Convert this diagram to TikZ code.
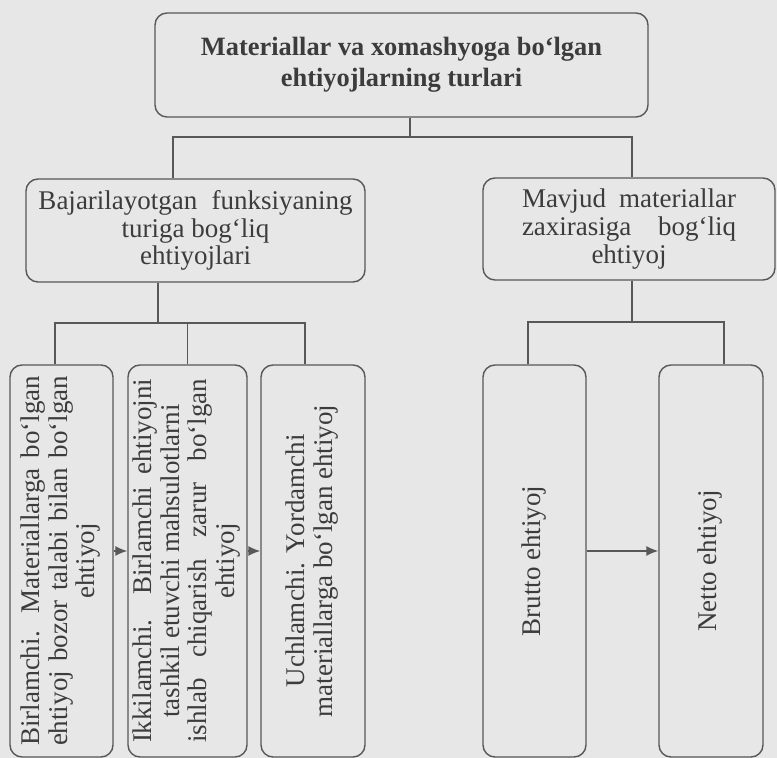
\documentclass[tikz,border=0pt]{standalone}
\usepackage{fontspec}
\setmainfont{Liberation Serif}
\usepackage{xcolor}
\usetikzlibrary{calc,arrows.meta}
\definecolor{pagebg}{HTML}{E7E7E7}
\definecolor{linegray}{HTML}{585858}
\definecolor{inkgray}{HTML}{3C3C3C}
\newcommand{\vlines}[1]{\rotatebox{90}{\begin{tabular}{@{}c@{}}#1\end{tabular}}}
\newcommand{\jline}[2]{\makebox[#1][s]{#2}}
\tikzset{
box/.style={
    draw=linegray, rectangle, rounded corners=6pt,
    line width=0.7pt, inner sep=2pt, text=inkgray,
    align=center, font=\fontsize{13.5}{13.8}\selectfont
  },
vbox/.style={
    box, minimum height=196pt, minimum width=#1
  }
}

\begin{document}
\begin{tikzpicture}[
 x=0.5pt, y=-0.5pt,
 link/.style={draw=linegray, line width=0.7pt},
 >={Latex[length=6pt,width=5pt]}
  ]
\fill[pagebg] (0,0) rectangle (777,758);
\useasboundingbox (0,0) rectangle (777,758);

\node[box, minimum width=246.5pt, minimum height=52pt,
      font=\fontsize{13.2}{15.5}\selectfont\bfseries] (top) at (401.5,65)
  {Materiallar va xomashyoga bo‘lgan\\ehtiyojlarning turlari};

\node[box, minimum width=169.5pt, minimum height=51.5pt] (func) at (195.5,230.5)
  {\jline{157pt}{Bajarilayotgan funksiyaning}\\turiga bog‘liq\\ehtiyojlari};
\node[box, minimum width=146pt, minimum height=51pt] (stock) at (629,229)
  {\jline{107pt}{Mavjud materiallar}\\\jline{107pt}{zaxirasiga bog‘liq}\\ehtiyoj};

\node[vbox=51.5pt] (prim) at (61.5,561)
  {\vlines{\jline{185pt}{Birlamchi. Materiallarga bo‘lgan}\\\jline{185pt}{ehtiyoj bozor talabi bilan bo‘lgan}\\ehtiyoj}};
\node[vbox=59.5pt] (sec) at (187.5,561)
  {\vlines{\jline{182pt}{Ikkilamchi. Birlamchi ehtiyojni}\\tashkil etuvchi mahsulotlarni\\\jline{182pt}{ishlab chiqarish zarur bo‘lgan}\\ehtiyoj}};
\node[vbox=52pt] (tert) at (313,561)
  {\vlines{Uchlamchi. Yordamchi\\materiallarga bo‘lgan ehtiyoj}};
\node[vbox=51.5pt] (gross) at (534.5,561) {\vlines{Brutto ehtiyoj}};
\node[vbox=52pt] (net) at (711,561) {\vlines{Netto ehtiyoj}};

\coordinate (j0) at (410,137);
\coordinate (jl) at (173,137);
\coordinate (jr) at (632,137);
\coordinate (kl) at (158,323);
\coordinate (kr) at (632,322);

\draw[link] (top.south -| j0) -- (j0);
\draw[link] (jl |- func.north) -- (jl) -- (jr) -- (jr |- stock.north);

\draw[link] (kl |- func.south) -- (kl);
\draw[link] (prim.north -| 55,0) |- (kl) -| (305,0 |- tert.north);
\draw[link] (sec.north) -- (sec.north |- kl);

\draw[link] (kr |- stock.south) -- (kr);
\draw[link] (gross.north -| 528,0) |- (kr) -| (724,0 |- net.north);

\draw[link,->] ([yshift=5pt]prim.east) -- ([yshift=5pt]sec.west);
\draw[link,->] ([yshift=5pt]sec.east) -- ([yshift=5pt]tert.west);
\draw[link,->] ([yshift=5pt]gross.east) -- ([yshift=5pt]net.west);
\end{tikzpicture}
\end{document}
